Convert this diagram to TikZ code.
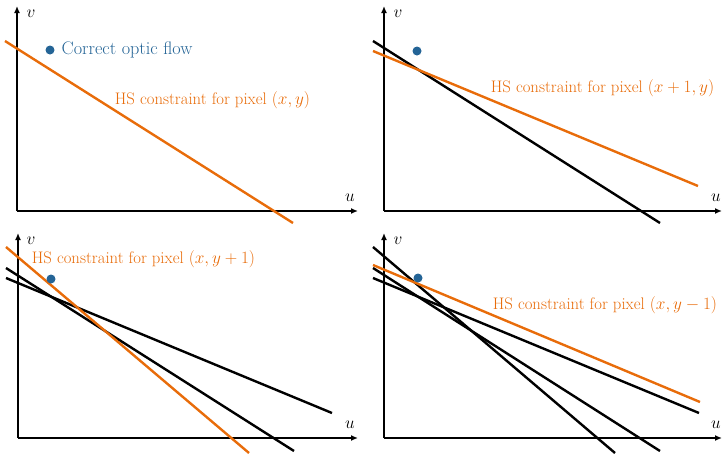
\documentclass[tikz,border=0pt]{standalone}
\usetikzlibrary{arrows.meta}
\definecolor{hsorange}{RGB}{232,108,10}
\definecolor{flowblue}{RGB}{36,100,150}
\tikzset{
  axis/.style={line width=1.5pt,-{Latex[length=7pt,width=6pt]}},
  hsline/.style={line width=2.4pt,hsorange},
  oldline/.style={line width=2.4pt,black},
  lbl/.style={inner sep=0pt,font=\fontsize{16.7}{19}\selectfont},
  hslbl/.style={lbl,text=hsorange},
  flowdot/.style={circle,fill=flowblue,minimum size=9pt,inner sep=0pt},
}
\begin{document}
\begin{tikzpicture}[x=1pt,y=-1pt]
\useasboundingbox (0,0) rectangle (722,453);
% ---------- panel 1 ----------
\coordinate (o1) at (17,211);
\coordinate (v1) at (17,6);
\coordinate (u1) at (358,211);
\draw[axis] (o1) -- (v1);
\draw[axis] (o1) -- (u1);
\node[lbl] (vl1) at (31,14) {$v$};
\node[lbl] (ul1) at (350,198) {$u$};
\coordinate (a1s) at (5,41); \coordinate (a1e) at (293,223);
\draw[hsline] (a1s) -- (a1e);
\node[flowdot] (d1) at (50,50) {};
\node[inner sep=0pt,font=\fontsize{18.2}{21}\selectfont,text=flowblue,anchor=west] (t1) at (61.5,50) {Correct optic flow};
\node[hslbl] (h1) at (212.5,100) {HS constraint for pixel $(x,y)$};
% ---------- panel 2 ----------
\coordinate (o2) at (384,211);
\coordinate (v2) at (384,6);
\coordinate (u2) at (722,211);
\draw[axis] (o2) -- (v2);
\draw[axis] (o2) -- (u2);
\node[lbl] (vl2) at (398,14) {$v$};
\node[lbl] (ul2) at (716,198) {$u$};
\coordinate (b2s) at (373,41); \coordinate (b2e) at (660,223);
\draw[oldline] (b2s) -- (b2e);
\coordinate (a2s) at (373,51); \coordinate (a2e) at (698,186);
\draw[hsline] (a2s) -- (a2e);
\node[flowdot] (d2) at (417,51) {};
\node[hslbl] (h2) at (602.5,88) {HS constraint for pixel $(x+1,y)$};
% ---------- panel 3 ----------
\coordinate (o3) at (18,438);
\coordinate (v3) at (18,233);
\coordinate (u3) at (358,438);
\draw[axis] (o3) -- (v3);
\draw[axis] (o3) -- (u3);
\node[lbl] (vl3) at (31,241) {$v$};
\node[lbl] (ul3) at (350,425) {$u$};
\coordinate (b3s) at (6,268); \coordinate (b3e) at (294,451);
\draw[oldline] (b3s) -- (b3e);
\coordinate (c3s) at (6,278); \coordinate (c3e) at (332,413);
\draw[oldline] (c3s) -- (c3e);
\coordinate (a3s) at (6,247); \coordinate (a3e) at (249,453);
\draw[hsline] (a3s) -- (a3e);
\node[flowdot] (d3) at (51,279) {};
\node[hslbl] (h3) at (143.5,259) {HS constraint for pixel $(x,y+1)$};
% ---------- panel 4 ----------
\coordinate (o4) at (384,438);
\coordinate (v4) at (384,233);
\coordinate (u4) at (722,438);
\draw[axis] (o4) -- (v4);
\draw[axis] (o4) -- (u4);
\node[lbl] (vl4) at (398,241) {$v$};
\node[lbl] (ul4) at (716,425) {$u$};
\coordinate (p4s) at (373,247); \coordinate (p4e) at (615,453);
\draw[oldline] (p4s) -- (p4e);
\coordinate (b4s) at (373,268); \coordinate (b4e) at (660,451);
\draw[oldline] (b4s) -- (b4e);
\coordinate (c4s) at (373,278); \coordinate (c4e) at (699,413);
\draw[oldline] (c4s) -- (c4e);
\coordinate (a4s) at (373,265); \coordinate (a4e) at (700,402);
\draw[hsline] (a4s) -- (a4e);
\node[flowdot] (d4) at (418,278) {};
\node[hslbl] (h4) at (605,305) {HS constraint for pixel $(x,y-1)$};
\end{tikzpicture}
\end{document}
